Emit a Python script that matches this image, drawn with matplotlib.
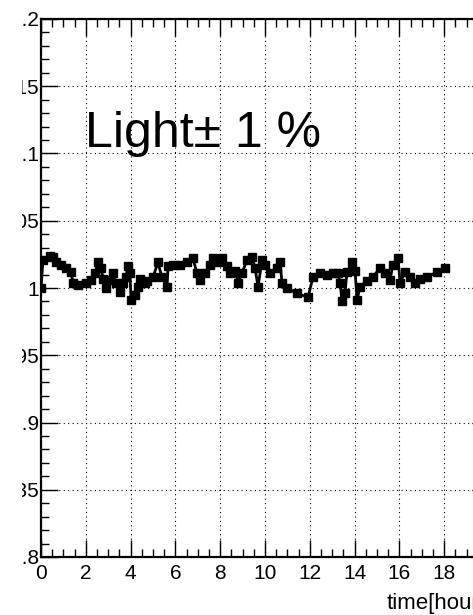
import matplotlib
matplotlib.use('Agg')
import matplotlib.pyplot as plt
from matplotlib.patches import Rectangle
from matplotlib.ticker import MultipleLocator, FixedLocator

# light yield stability
time_hours = [0.0, 0.09, 0.40, 0.54, 0.67, 0.89, 1.12, 1.34, 1.43, 1.65,
              2.01, 2.23, 2.41, 2.54, 2.68, 2.77, 2.90, 3.08, 3.21, 3.35,
              3.53, 3.66, 3.79, 3.88, 3.97, 4.02, 4.20, 4.33, 4.42, 4.64,
              4.73, 5.00, 5.22, 5.40, 5.63, 5.67, 5.89, 6.21, 6.52, 6.79,
              6.96, 7.10, 7.32, 7.54, 7.68, 7.90, 8.08, 8.30, 8.44, 8.66,
              8.79, 8.97, 9.20, 9.42, 9.55, 9.69, 9.87, 10.00, 10.22, 10.54,
              10.67, 10.76, 10.98, 11.43, 11.92, 12.14, 12.46, 12.77, 13.04, 13.26,
              13.35, 13.44, 13.57, 13.66, 13.88, 14.02, 14.11, 14.24, 14.55, 14.82,
              15.13, 15.36, 15.58, 15.71, 15.94, 16.03, 16.25, 16.47, 16.70, 16.92,
              17.23, 17.68, 18.04]
light = [1.000, 1.021, 1.024, 1.023, 1.019, 1.017, 1.015, 1.012, 1.004, 1.002,
         1.004, 1.006, 1.011, 1.019, 1.015, 1.007, 1.000, 1.006, 1.011, 1.004,
         0.997, 1.004, 1.008, 1.016, 1.011, 0.991, 0.995, 1.001, 1.007, 1.004,
         1.005, 1.008, 1.019, 1.008, 1.001, 1.016, 1.017, 1.017, 1.019, 1.022,
         1.011, 1.006, 1.011, 1.017, 1.022, 1.019, 1.022, 1.016, 1.011, 1.013,
         1.004, 1.011, 1.021, 1.023, 1.015, 1.001, 1.021, 1.017, 1.011, 1.015,
         1.019, 1.004, 1.000, 0.996, 0.993, 1.008, 1.011, 1.010, 1.011, 1.011,
         1.004, 0.990, 0.996, 1.012, 1.019, 1.013, 0.991, 1.001, 1.005, 1.008,
         1.015, 1.011, 1.006, 1.017, 1.022, 1.004, 1.012, 1.008, 1.004, 1.007,
         1.008, 1.012, 1.015]

y_ticks = [0.8, 0.85, 0.9, 0.95, 1.0, 1.05, 1.1, 1.15, 1.2]
y_tick_labels = ['0.8', '0.85', '0.9', '0.95', '1', '1.05', '1.1', '1.15', '1.2']
x_ticks = [0, 2, 4, 6, 8, 10, 12, 14, 16, 18]

W, H = 473, 615
plt.rcParams['font.family'] = ['Liberation Sans', 'DejaVu Sans']

fig = plt.figure(figsize=(W / 100, H / 100), dpi=100)
ax = fig.add_axes([41 / W, 58 / H, 448 / W, 538 / H])

ax.plot(time_hours, light, color='black', linewidth=2.0, marker='s', markersize=5.2,
        markerfacecolor='black', markeredgecolor='black')

ax.set_xlim(0, 20)
ax.set_ylim(0.8, 1.2)
ax.xaxis.set_major_locator(FixedLocator(x_ticks))
ax.xaxis.set_minor_locator(MultipleLocator(0.5))
ax.set_yticks(y_ticks)
ax.set_yticklabels(y_tick_labels)
ax.yaxis.set_minor_locator(MultipleLocator(0.01))

ax.grid(True, which='major', color='black', linestyle=(0, (1, 3)), linewidth=0.8)
ax.tick_params(which='both', direction='in', top=True, right=True, width=1.0, color='black')
ax.tick_params(which='major', length=12)
ax.tick_params(which='minor', length=6)
ax.tick_params(axis='x', labelsize=15, pad=5)
ax.tick_params(axis='y', labelsize=15, pad=1.5)
for s in ax.spines.values():
    s.set_linewidth(1.6)

ax.text(1.96, 1.1048, 'Light\u00b1 1 %', fontsize=36, va='baseline', ha='left')
fig.text(497 / W, 1 - 609 / H, 'time[hours]', fontsize=16, ha='right', va='baseline')

# the reference is cropped on the left, hiding part of the y labels
fig.patches.append(Rectangle((0, 0), 22 / W, 1, transform=fig.transFigure,
                             facecolor='white', edgecolor='none', zorder=10))

fig.savefig('out.png', dpi=100)
